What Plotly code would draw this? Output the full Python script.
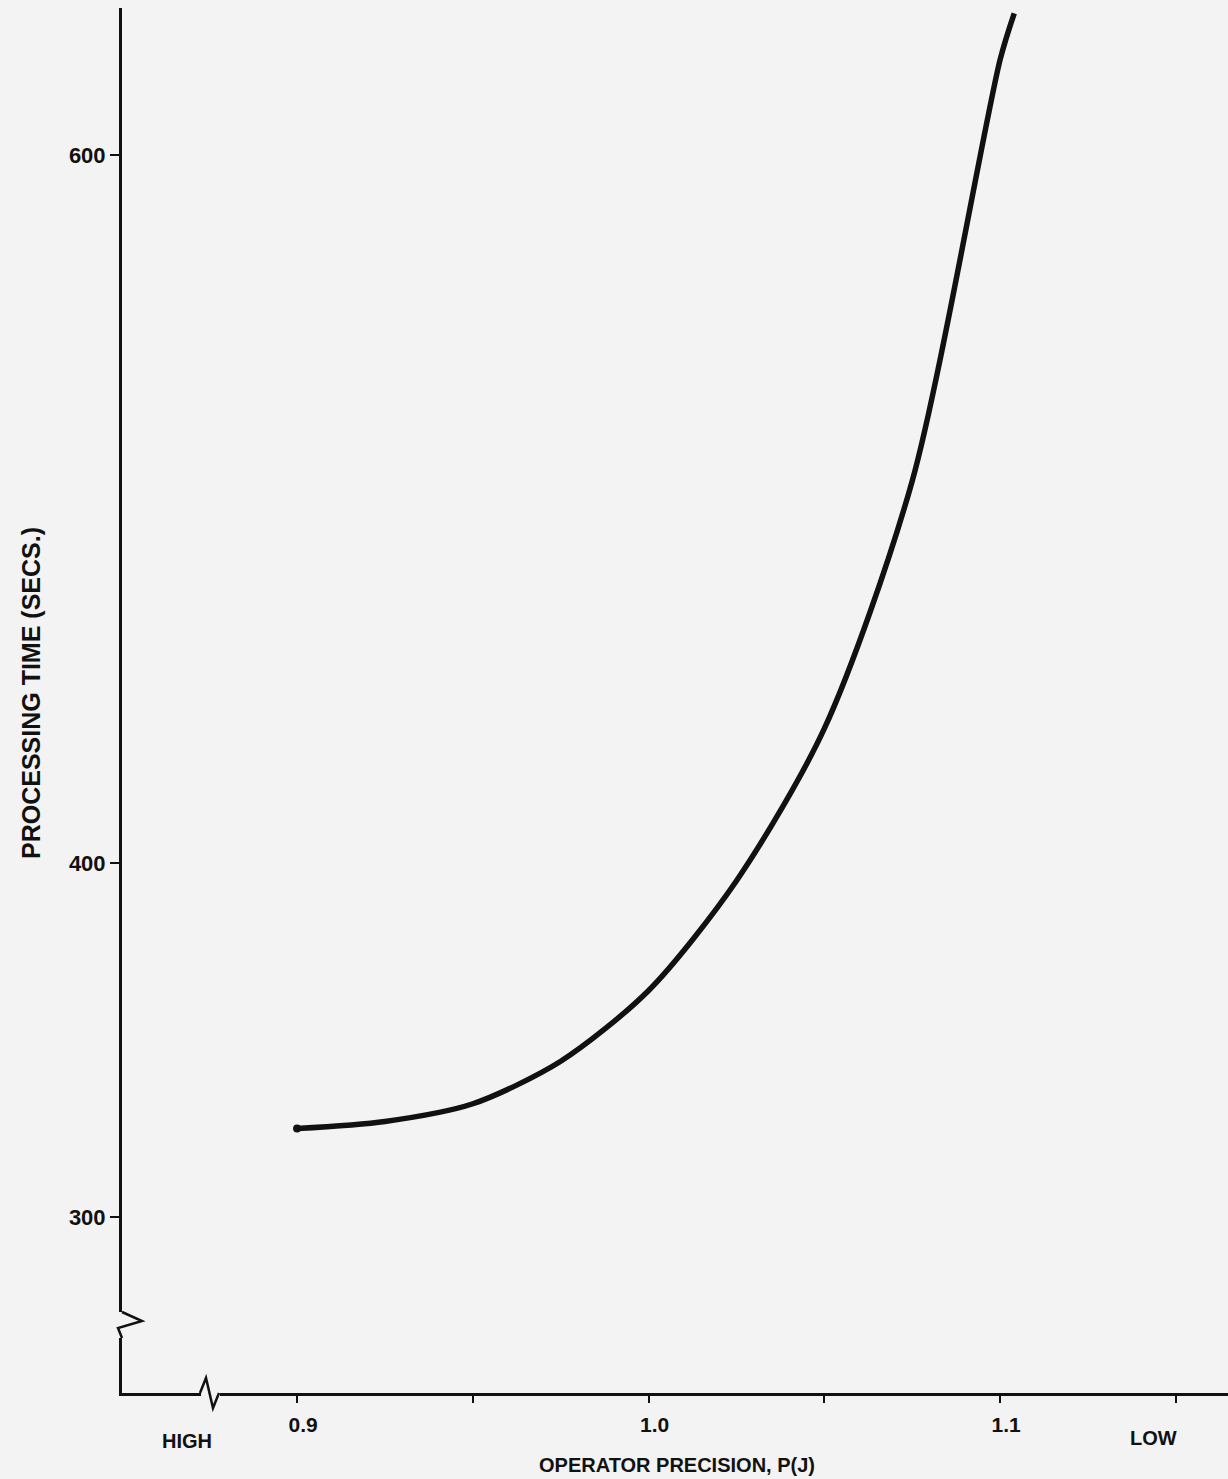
import plotly.graph_objects as go

# ---- data ----
precision = [0.900, 0.925, 0.950, 0.975, 1.000, 1.025, 1.050, 1.075, 1.100, 1.104]
proc_time = [325, 327, 332, 344, 364, 395, 438, 508, 627, 640]

y_ticks = [300, 400, 600]
y_tick_text = ["300", "400", "600"]
x_ticks = [0.90, 0.95, 1.00, 1.05, 1.10, 1.15]
x_tick_text = ["0.9", "", "1.0", "", "1.1", ""]

# ---- layout geometry ----
W, H = 1228, 1479
L, R, T, B = 122, 1228, 8, 1393
BG = "#f3f3f3"
INK = "#111111"
FONT = dict(family="Liberation Sans, Arial, sans-serif", size=20, color=INK, weight="bold")


def px(x):
    return (x - L) / (R - L)


def py(y):
    return (B - y) / (B - T)


fig = go.Figure()
fig.add_trace(go.Scatter(
    x=precision, y=proc_time, mode="lines",
    line=dict(color=INK, width=5.5, shape="spline", smoothing=0.8),
    hoverinfo="skip", showlegend=False,
))
fig.add_trace(go.Scatter(
    x=precision[:1], y=proc_time[:1], mode="markers",
    marker=dict(color=INK, size=8), hoverinfo="skip", showlegend=False,
))

shapes = []
# x-axis break
shapes.append(dict(type="rect", xref="paper", yref="paper",
                   x0=px(201), x1=px(220), y0=py(1398), y1=py(1388),
                   fillcolor=BG, line=dict(width=0), layer="above"))
shapes.append(dict(type="path", xref="paper", yref="paper",
                   path=f"M {px(200)},{py(1393)} L {px(206)},{py(1378)} L {px(213)},{py(1408)} L {px(219)},{py(1393)}",
                   line=dict(color=INK, width=2.5), layer="above"))
# y-axis break
shapes.append(dict(type="rect", xref="paper", yref="paper",
                   x0=px(117), x1=px(127), y0=py(1338), y1=py(1312),
                   fillcolor=BG, line=dict(width=0), layer="above"))
shapes.append(dict(type="path", xref="paper", yref="paper",
                   path=f"M {px(122)},{py(1312)} L {px(142)},{py(1321)} L {px(118)},{py(1328)} L {px(122)},{py(1338)}",
                   line=dict(color=INK, width=2.5), layer="above"))

annotations = [
    dict(text="PROCESSING TIME (SECS.)", xref="paper", yref="paper",
         x=px(31), y=py(693), textangle=-90, showarrow=False,
         xanchor="center", yanchor="middle", font=dict(FONT, size=25)),
    dict(text="OPERATOR PRECISION, P(J)", xref="paper", yref="paper",
         x=px(677), y=py(1465), showarrow=False,
         xanchor="center", yanchor="middle", font=FONT),
    dict(text="HIGH", xref="paper", yref="paper",
         x=px(187), y=py(1441), showarrow=False,
         xanchor="center", yanchor="middle", font=FONT),
    dict(text="LOW", xref="paper", yref="paper",
         x=px(1153), y=py(1438), showarrow=False,
         xanchor="center", yanchor="middle", font=FONT),
]

fig.update_layout(
    width=W, height=H,
    margin=dict(l=L, r=W - R, t=T, b=H - B, pad=0),
    paper_bgcolor=BG, plot_bgcolor=BG,
    shapes=shapes, annotations=annotations,
    showlegend=False,
)
fig.update_xaxes(
    range=[0.8502, 1.1648], showgrid=False, zeroline=False,
    showline=True, linecolor=INK, linewidth=2.5,
    tickmode="array", tickvals=x_ticks, ticktext=x_tick_text,
    ticks="outside", ticklen=7, tickwidth=2, tickcolor=INK,
    tickfont=dict(FONT, size=21), ticklabelshift=6, ticklabelstandoff=4,
)
fig.update_yaxes(
    range=[250.3, 641.5], showgrid=False, zeroline=False,
    showline=True, linecolor=INK, linewidth=3,
    tickmode="array", tickvals=y_ticks, ticktext=y_tick_text,
    ticks="outside", ticklen=9, tickwidth=2, tickcolor=INK,
    tickfont=dict(FONT, size=22),
)

fig.write_html(
    "out.html",
    config={"displayModeBar": False},
    post_script="document.body.style.margin='0';document.body.style.background='#f3f3f3';",
)
